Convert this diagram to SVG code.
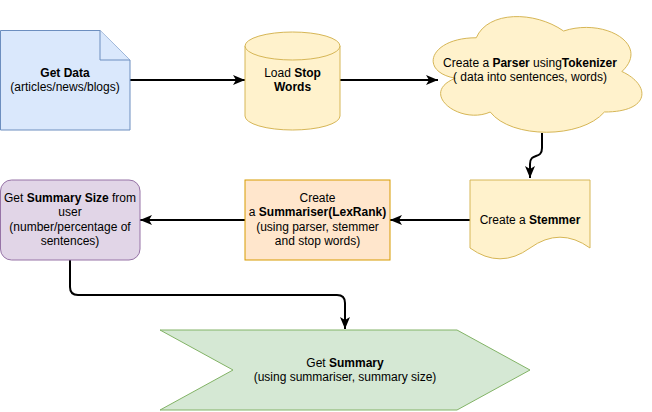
<svg xmlns="http://www.w3.org/2000/svg" width="652" height="412" viewBox="0 0 652 412">
<style>
text{font-family:"Liberation Sans",Arial,sans-serif;font-size:12px;fill:#000;text-anchor:middle}
.b{font-weight:bold}
.blue{fill:#dae8fc;stroke:#6c8ebf;stroke-width:1}
.yel{fill:#fff2cc;stroke:#d6b656;stroke-width:1}
.org{fill:#ffe6cc;stroke:#d79b00;stroke-width:1}
.pur{fill:#e1d5e7;stroke:#9673a6;stroke-width:1}
.grn{fill:#d5e8d4;stroke:#82b366;stroke-width:1}
.edge{fill:none;stroke:#000;stroke-width:2;marker-end:url(#arr)}
</style>
<defs>
<marker id="arr" viewBox="0 0 12 10" refX="12" refY="5" markerWidth="12" markerHeight="10" markerUnits="userSpaceOnUse" orient="auto">
<path d="M0,0 L12,5 L0,10 L3,5 Z" fill="#000"/>
</marker>
</defs>
<rect width="652" height="412" fill="#fff"/>
<g id="connectors">
<path class="edge" d="M130,80 H245"/>
<path class="edge" d="M340,80 H438"/>
<path class="edge" d="M542,133 V148 C542,160 530,152 530,164 V178"/>
<path class="edge" d="M470,220 H390"/>
<path class="edge" d="M245,220 H140"/>
<path class="edge" d="M70,260 V287 Q70,295 78,295 H337 Q345,295 345,303 V329"/>
</g>
<g id="get-data">
<path class="blue" d="M0.5,30.5 H100 L130,60 V130 H0.5 Z"/>
<path class="blue" d="M100,30.5 V60 H130"/>
<text x="65" y="77" class="b">Get Data</text>
<text x="65" y="91">(articles/news/blogs)</text>
</g>
<g id="load-stop-words">
<path class="yel" d="M245,46 A47.5,14 0 0 1 340,46 V116 A47.5,14 0 0 1 245,116 Z"/>
<path class="yel" d="M245,46 A47.5,14 0 0 0 340,46" fill="none"/>
<text x="292.5" y="77">Load <tspan class="b">Stop</tspan></text>
<text x="292.5" y="91" class="b">Words</text>
</g>
<g id="parser">
<path class="yel" d="M476.25,37.75 C429.65,37.75 418,71.5 455.28,78.25 C418,93.1 459.94,125.5 490.23,112 C511.2,139 581.1,139 604.4,112 C651,112 651,85 621.9,71.5 C651,44.5 604.4,17.5 563.6,31 C534.5,10.75 487.9,10.75 476.25,37.75 Z"/>
<text x="530" y="67">Create a <tspan class="b">Parser</tspan> using<tspan class="b">Tokenizer</tspan></text>
<text x="530" y="81">( data into sentences, words)</text>
</g>
<g id="stemmer">
<path class="yel" d="M470,180 H590 V248 Q560,226.4 530,248 Q500,269.6 470,248 Z"/>
<text x="530" y="224">Create a <tspan class="b">Stemmer</tspan></text>
</g>
<g id="summariser">
<rect class="org" x="245" y="180" width="145" height="80"/>
<text x="317.5" y="202">Create</text>
<text x="317.5" y="216">a <tspan class="b">Summariser(LexRank)</tspan></text>
<text x="317.5" y="231">(using parser, stemmer</text>
<text x="317.5" y="245">and stop words)</text>
</g>
<g id="summary-size">
<rect class="pur" x="0.5" y="180" width="139.5" height="80" rx="11" ry="11"/>
<text x="70" y="202">Get <tspan class="b">Summary Size</tspan> from</text>
<text x="70" y="216">user</text>
<text x="70" y="231">(number/percentage of</text>
<text x="70" y="245">sentences)</text>
</g>
<g id="get-summary">
<path class="grn" d="M160,330 H457 L530,370 L457,410 H160 L233,370 Z"/>
<text x="345" y="367">Get <tspan class="b">Summary</tspan></text>
<text x="345" y="381">(using summariser, summary size)</text>
</g>
</svg>
